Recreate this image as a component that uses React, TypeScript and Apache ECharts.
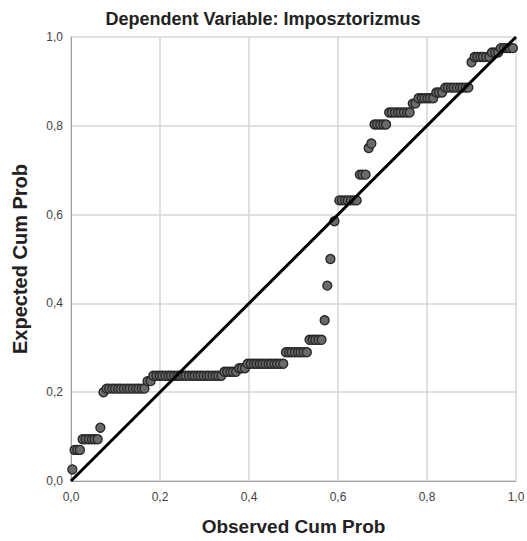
import React, { useEffect, useRef } from "react";
import * as echarts from "echarts";

const titleText = "Dependent Variable: Imposztorizmus";
const xAxisName = "Observed Cum Prob";
const yAxisName = "Expected Cum Prob";
const tickValues = [0, 0.2, 0.4, 0.6, 0.8, 1.0];

// Observed cumulative probability of each case
const observed = [
  0.003,
  0.008, 0.014, 0.020,
  0.026, 0.033, 0.040, 0.047, 0.053, 0.060,
  0.066,
  0.073,
  0.080, 0.086, 0.093, 0.099, 0.106, 0.112, 0.119, 0.126, 0.132, 0.139, 0.146, 0.152, 0.159, 0.165,
  0.172, 0.179,
  0.185, 0.192, 0.199, 0.205, 0.212, 0.219, 0.225, 0.232, 0.239, 0.245, 0.252, 0.258, 0.265, 0.272,
  0.278, 0.285, 0.291, 0.298, 0.305, 0.311, 0.318, 0.325, 0.331, 0.338,
  0.345, 0.351, 0.358, 0.364, 0.371,
  0.378, 0.384, 0.391,
  0.397, 0.404, 0.411, 0.417, 0.424, 0.430, 0.437, 0.444, 0.450, 0.457, 0.463, 0.470, 0.477,
  0.483, 0.490, 0.496, 0.503, 0.510, 0.516, 0.523, 0.530,
  0.536, 0.543, 0.549, 0.556, 0.563,
  0.570,
  0.576,
  0.583,
  0.592,
  0.603, 0.609, 0.616, 0.622, 0.629, 0.636, 0.642,
  0.649, 0.655, 0.662,
  0.669, 0.675,
  0.682, 0.688, 0.695, 0.702, 0.708,
  0.715, 0.721, 0.728, 0.735, 0.741, 0.748, 0.755, 0.761,
  0.768, 0.774,
  0.781, 0.788, 0.794, 0.801, 0.807, 0.814,
  0.821, 0.827, 0.834,
  0.841, 0.847, 0.854, 0.860, 0.867, 0.874, 0.880, 0.887, 0.893,
  0.900,
  0.907, 0.913, 0.920, 0.926, 0.933, 0.940,
  0.946, 0.953, 0.960,
  0.966, 0.973, 0.980, 0.986, 0.993,
];

// Expected cumulative probability of each case
const expected = [
  0.026,
  0.070, 0.070, 0.070,
  0.094, 0.094, 0.094, 0.094, 0.094, 0.094,
  0.120,
  0.200,
  0.208, 0.208, 0.208, 0.208, 0.208, 0.208, 0.208, 0.208, 0.208, 0.208, 0.208, 0.208, 0.208, 0.208,
  0.225, 0.225,
  0.237, 0.237, 0.237, 0.237, 0.237, 0.237, 0.237, 0.237, 0.237, 0.237, 0.237, 0.237, 0.237, 0.237,
  0.237, 0.237, 0.237, 0.237, 0.237, 0.237, 0.237, 0.237, 0.237, 0.237,
  0.246, 0.246, 0.246, 0.246, 0.246,
  0.254, 0.254, 0.254,
  0.264, 0.264, 0.264, 0.264, 0.264, 0.264, 0.264, 0.264, 0.264, 0.264, 0.264, 0.264, 0.264,
  0.290, 0.290, 0.290, 0.290, 0.290, 0.290, 0.290, 0.290,
  0.318, 0.318, 0.318, 0.318, 0.318,
  0.362,
  0.440,
  0.500,
  0.585,
  0.632, 0.632, 0.632, 0.632, 0.632, 0.632, 0.632,
  0.690, 0.690, 0.690,
  0.750, 0.760,
  0.803, 0.803, 0.803, 0.803, 0.803,
  0.830, 0.830, 0.830, 0.830, 0.830, 0.830, 0.830, 0.830,
  0.850, 0.850,
  0.862, 0.862, 0.862, 0.862, 0.862, 0.862,
  0.875, 0.875, 0.875,
  0.886, 0.886, 0.886, 0.886, 0.886, 0.886, 0.886, 0.886, 0.886,
  0.943,
  0.955, 0.955, 0.955, 0.955, 0.955, 0.955,
  0.965, 0.965, 0.965,
  0.975, 0.975, 0.975, 0.975, 0.975,
];

const diagonal = [
  [0, 0],
  [1, 1],
];

const fmt = (v: number) => v.toFixed(1).replace(".", ",");
const FONT = "Liberation Sans, Arial, sans-serif";

export default function App() {
  const ref = useRef<HTMLDivElement>(null);
  useEffect(() => {
    if (!ref.current) return;
    const chart = echarts.init(ref.current, undefined, { renderer: "svg" });
    const points = observed.map((x, i) => [x, expected[i]]);
    chart.setOption({
      animation: false,
      backgroundColor: "#ffffff",
      title: {
        text: titleText,
        left: 258,
        textAlign: "center",
        top: 5,
        textStyle: {
          fontFamily: FONT,
          fontSize: 18,
          fontWeight: "bold",
          color: "#222",
        },
      },
      grid: { left: 71, right: 11, top: 37, bottom: 60, outerBoundsMode: "none" },
      xAxis: {
        type: "value",
        min: 0,
        max: 1,
        interval: 0.2,
        name: xAxisName,
        nameLocation: "middle",
        nameGap: 36,
        nameTextStyle: {
          fontFamily: FONT,
          fontSize: 19,
          fontWeight: "bold",
          color: "#222",
        },
        axisLine: { show: true, lineStyle: { color: "#a0a0a0", width: 1 } },
        axisTick: { show: false },
        axisLabel: {
          formatter: fmt,
          fontFamily: FONT,
          fontSize: 12,
          color: "#444",
          margin: 10,
          showMaxLabel: true,
          hideOverlap: false,
        },
        splitLine: { show: true, lineStyle: { color: "#d6d6d6", width: 1.5 } },
      },
      yAxis: {
        type: "value",
        min: 0,
        max: 1,
        interval: 0.2,
        name: yAxisName,
        nameLocation: "middle",
        nameGap: 41,
        nameTextStyle: {
          fontFamily: FONT,
          fontSize: 20,
          fontWeight: "bold",
          color: "#222",
        },
        axisLine: { show: true, lineStyle: { color: "#a0a0a0", width: 1 } },
        axisTick: { show: false },
        axisLabel: {
          formatter: fmt,
          fontFamily: FONT,
          fontSize: 12,
          color: "#444",
          margin: 8,
        },
        splitLine: { show: true, lineStyle: { color: "#d6d6d6", width: 1.5 } },
      },
      series: [
        {
          type: "scatter",
          data: points,
          symbol: "circle",
          symbolSize: 9,
          itemStyle: {
            color: "#6a6a6a",
            borderColor: "#262626",
            borderWidth: 1.3,
            opacity: 1,
          },
          z: 2,
        },
        {
          type: "line",
          data: diagonal,
          symbol: "none",
          lineStyle: { color: "#000", width: 3 },
          z: 3,
        },
      ],
    });
    return () => chart.dispose();
  }, []);
  return (
    <div
      ref={ref}
      style={{ position: "absolute", left: 0, top: 0, width: 527, height: 541 }}
    />
  );
}
